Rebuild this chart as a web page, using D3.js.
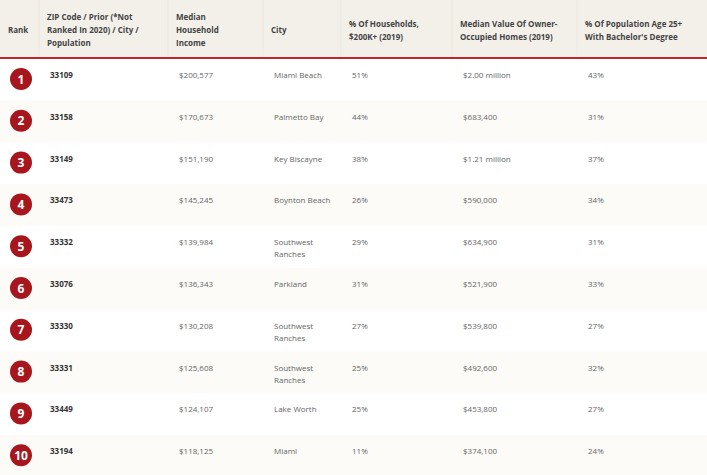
<!DOCTYPE html>
<html><head><meta charset="utf-8">
<script src="https://cdn.jsdelivr.net/npm/d3@7"></script>
<style>body{margin:0;background:#fff}svg{display:block}</style>
</head><body>
<script>
"use strict";

var headers = [
    ["Rank"],
    ["ZIP Code / Prior (*Not", "Ranked In 2020) / City /", "Population"],
    ["Median", "Household", "Income"],
    ["City"],
    ["% Of Households,", "$200K+ (2019)"],
    ["Median Value Of Owner-", "Occupied Homes (2019)"],
    ["% Of Population Age 25+", "With Bachelor's Degree"]
],
    ranks = [1, 2, 3, 4, 5, 6, 7, 8, 9, 10],
    zips = ["33109", "33158", "33149", "33473", "33332", "33076", "33330", "33331", "33449", "33194"],
    incomes = ["$200,577", "$170,673", "$151,190", "$145,245", "$139,984", "$136,343", "$130,208", "$125,608", "$124,107", "$118,125"],
    cities = [["Miami Beach"], ["Palmetto Bay"], ["Key Biscayne"], ["Boynton Beach"], ["Southwest", "Ranches"],
	      ["Parkland"], ["Southwest", "Ranches"], ["Southwest", "Ranches"], ["Lake Worth"], ["Miami"]],
    pct200k = ["51%", "44%", "38%", "26%", "29%", "31%", "27%", "25%", "25%", "11%"],
    homeValues = ["$2.00 million", "$683,400", "$1.21 million", "$590,000", "$634,900", "$521,900", "$539,800", "$492,600", "$453,800", "$374,100"],
    bachelors = ["43%", "31%", "37%", "34%", "31%", "33%", "27%", "32%", "27%", "24%"];

var W = 707, H = 475, headH = 58,
    colX = [8, 47, 176, 271, 349, 460, 585],
    font = "'Open Sans', sans-serif";

var svg = d3.select("body").append("svg").attr("width", W).attr("height", H);

var y = d3.scaleBand().domain(d3.range(ranks.length)).range([headH + 1, H + 2]);

svg.append("rect").attr("width", W).attr("height", headH).attr("fill", "#f3f0ea");
colX.slice(1).forEach(function(x) {
    svg.append("line").attr("x1", x - 8).attr("x2", x - 8).attr("y1", 0).attr("y2", headH)
	.attr("stroke", "#ebe6df").attr("stroke-width", 1);
});
svg.append("line").attr("x1", 0).attr("x2", W).attr("y1", headH).attr("y2", headH)
    .attr("stroke", "#c0262d").attr("stroke-width", 2);

headers.forEach(function(lines, i) {
    var t = svg.append("text").attr("x", colX[i]).attr("font-family", font)
	.attr("font-size", 8).attr("font-weight", 700).attr("fill", "#444");
    var y0 = 33 - (lines.length - 1) * 6.5;
    lines.forEach(function(l, j) {
	t.append("tspan").attr("x", colX[i]).attr("y", y0 + j * 13).text(l);
    });
});

var rows = svg.selectAll("g.row").data(ranks).enter().append("g")
    .attr("transform", function(d, i) { return "translate(0," + y(i) + ")"; });

rows.append("rect").attr("width", W).attr("height", y.bandwidth())
    .attr("fill", function(d, i) { return i % 2 ? "#fcfbf8" : "#fff"; });

rows.append("circle").attr("cx", 21).attr("cy", 20).attr("r", 11).attr("fill", "#a8161d");
rows.append("text").attr("x", 21).attr("y", 24.5).attr("text-anchor", "middle")
    .attr("font-family", font).attr("font-size", 12).attr("font-weight", 700).attr("fill", "#fff")
    .text(function(d) { return d; });

function cell(col, arr, bold) {
    rows.append("text").attr("font-family", font).attr("font-size", 8)
	.attr("font-weight", bold ? 700 : 400).attr("fill", bold ? "#333" : "#666")
	.each(function(d, i) {
	    var v = arr[i], lines = Array.isArray(v) ? v : [v], t = d3.select(this);
	    lines.forEach(function(l, j) {
		t.append("tspan").attr("x", colX[col] + 3).attr("y", 19 + j * 12).text(l);
	    });
	});
}
cell(1, zips, true);
cell(2, incomes);
cell(3, cities);
cell(4, pct200k);
cell(5, homeValues);
cell(6, bachelors);
</script>
</body></html>
